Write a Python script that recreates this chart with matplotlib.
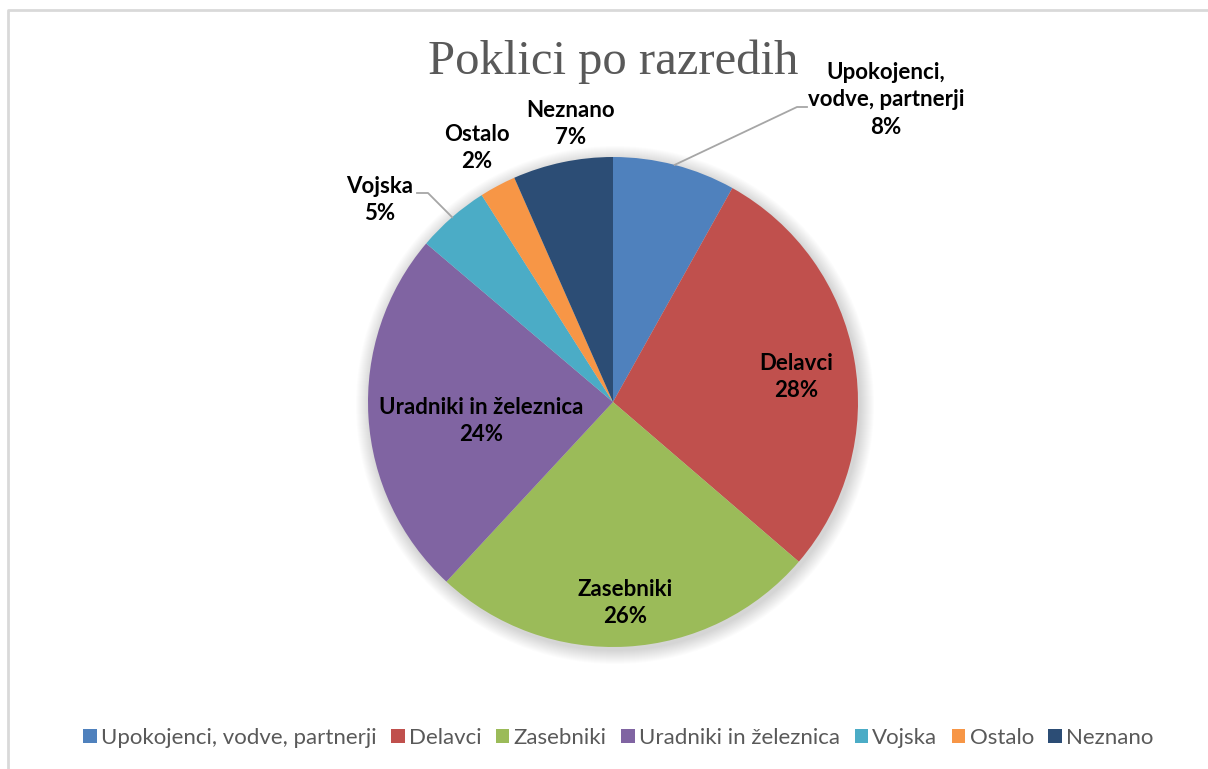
import numpy as np
import matplotlib.pyplot as plt
from matplotlib.patches import Circle, Patch

# data (share of calls, %)
categories = ['Upokojenci, vodve, partnerji', 'Delavci', 'Zasebniki',
              'Uradniki in železnica', 'Vojska', 'Ostalo', 'Neznano']
label_text = ['Upokojenci,\nvodve, partnerji', 'Delavci', 'Zasebniki',
              'Uradniki in železnica', 'Vojska', 'Ostalo', 'Neznano']
shares = [8.1, 28.2, 25.6, 24.3, 4.8, 2.4, 6.6]
colors = ['#4F81BD', '#C0504D', '#9BBB59', '#8064A2', '#4BACC6', '#F79646', '#2C4D75']

W, H = 1208, 769
fig = plt.figure(figsize=(W / 100, H / 100), dpi=100)
ax = fig.add_axes([0, 0, 1, 1])

cx, cy, R = 613, H - 402, 245

# soft shadow behind the pie
for k in range(14):
    ax.add_patch(Circle((cx + 2, cy - 3), R + 14 - k, color='black',
                        alpha=0.012, lw=0, zorder=1))

wedges, _ = ax.pie(shares, colors=colors, startangle=90, counterclock=False,
                   center=(cx, cy), radius=R, frame=True,
                   wedgeprops=dict(linewidth=0, zorder=2))
ax.set_xlim(0, W)
ax.set_ylim(0, H)
ax.axis('off')

# label block positions (pixels from top-left), layout only
label_pos = [(886, 100), (796, 377), (625, 603), (481, 421),
             (380, 200), (477, 148), (571, 124)]
total = sum(shares)
for i, (txt, val) in enumerate(zip(label_text, shares)):
    px, py = label_pos[i]
    ax.text(px, H - py, '%s\n%d%%' % (txt, round(val / total * 100)),
            ha='center', va='center', fontsize=16, fontweight='bold',
            family='Lato', color='black', linespacing=1.4, zorder=5)

# leader lines for the two outside labels
for i, (bend, end) in {0: ((797, 107), (807, 107)), 4: ((428, 193), (417, 193))}.items():
    w = wedges[i]
    mid = np.deg2rad((w.theta1 + w.theta2) / 2)
    sx, sy = cx + R * np.cos(mid), cy + R * np.sin(mid)
    ax.plot([sx, bend[0], end[0]], [sy, H - bend[1], H - end[1]],
            color='#a6a6a6', lw=1.3, zorder=4)

ax.text(613, H - 62, 'Poklici po razredih', ha='center', va='center',
        fontsize=35, family='Liberation Serif', color='#595959', zorder=5)

handles = [Patch(facecolor=c, edgecolor='none') for c in colors]
fig.legend(handles, categories, loc='center', bbox_to_anchor=(0.512, 1 - 738 / H),
           ncol=7, frameon=False, prop={'family': 'Lato', 'size': 16},
           labelcolor='#595959', handlelength=0.6, handleheight=0.6,
           handletextpad=0.2, columnspacing=0.65)

# chart border (only left and top edges fall inside the picture)
ax.plot([8, 8, W + 5], [-5, H - 10, H - 10], color='#d9d9d9', lw=2, zorder=6)

fig.savefig('out.png', dpi=100)
